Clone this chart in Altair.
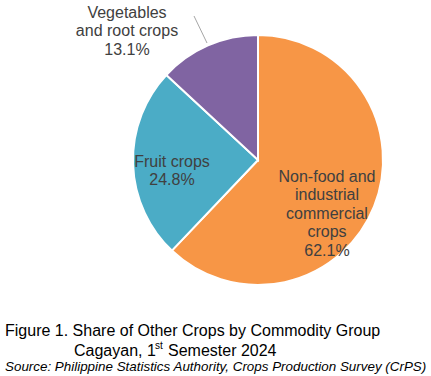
import altair as alt
import pandas as pd

categories = ["Non-food and industrial commercial crops", "Fruit crops", "Vegetables and root crops"]
display_lines = [["Non-food and", "industrial", "commercial", "crops"], ["Fruit crops"], ["Vegetables", "and root crops"]]
values = [62.1, 24.8, 13.1]
colors = ["#F79646", "#4BACC6", "#8064A2"]

labels = ["\n".join(lines + [f"{v}%"]) for lines, v in zip(display_lines, values)]
df = pd.DataFrame({"category": categories, "value": values, "label": labels, "order": [0, 1, 2]})

FONT = "Liberation Sans"

pie = alt.Chart(df).mark_arc(radius=125, stroke="white", strokeWidth=2).encode(
    theta=alt.Theta("value:Q", stack=True),
    color=alt.Color("category:N", scale=alt.Scale(domain=categories, range=colors), legend=None),
    order=alt.Order("order:Q"),
    x=alt.value(258),
    y=alt.value(160),
)

def label_layer(cat, x, y):
    return alt.Chart(df).transform_filter(alt.datum.category == cat).mark_text(
        font=FONT, fontSize=16, color="#404040", lineBreak="\n", lineHeight=18.4,
        align="center", baseline="middle"
    ).encode(text="label:N", x=alt.value(x), y=alt.value(y))

lab_nonfood = label_layer(categories[0], 327, 177)
lab_fruit = label_layer(categories[1], 172, 162)
lab_veg = label_layer(categories[2], 127, 13)

leader = alt.Chart(df).transform_filter(alt.datum.category == categories[2]).mark_rule(
    color="#a6a6a6", strokeWidth=1
).encode(x=alt.value(194), y=alt.value(16), x2=alt.value(207), y2=alt.value(43))

cap_df = pd.DataFrame({"t": ["x"]})

def cap(text, x, y, size=16, style="normal", align="left"):
    return alt.Chart(cap_df).mark_text(
        text=text, font=FONT, fontSize=size, fontStyle=style, color="#000000",
        align=align, baseline="alphabetic"
    ).encode(x=alt.value(x), y=alt.value(y))

captions = [
    cap("Figure 1. Share of Other Crops by Commodity Group", 5, 336),
    cap("Cagayan, 1", 74, 356),
    cap("st", 155, 349, size=10),
    cap("Semester 2024", 168, 356),
    cap("Source: Philippine Statistics Authority, Crops Production Survey (CrPS)", 5, 371, size=13.4, style="italic"),
]

chart = alt.layer(pie, leader, lab_nonfood, lab_fruit, lab_veg, *captions).properties(
    width=431, height=376, autosize="none", padding=0
).configure_view(stroke=None)

chart.save("out.html", embed_options={"renderer": "svg", "actions": False})
